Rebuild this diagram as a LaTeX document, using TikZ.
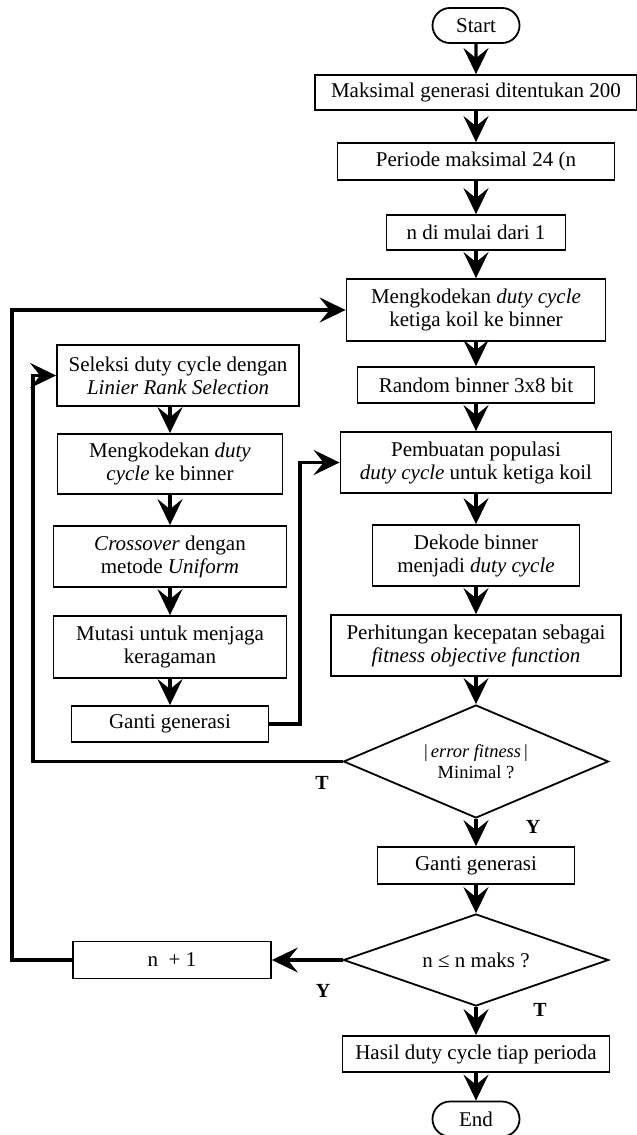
\documentclass[tikz,border=0pt]{standalone}
\usepackage{fontspec}
\setmainfont{Liberation Serif}
\usepackage{tikz}
\usetikzlibrary{shapes, arrows.meta, positioning}

\begin{document}
\begin{tikzpicture}[
        x=1pt, y=-1pt,
        box/.style={rectangle, draw, line width=1.8pt, inner sep=0pt, align=center, font=\fontsize{21}{23}\selectfont},
        term/.style={rounded rectangle, draw, line width=1.8pt, inner sep=0pt, minimum width=87pt, minimum height=35pt, font=\fontsize{21}{23}\selectfont},
        decision/.style={diamond, draw, line width=1.8pt, aspect=2.4, inner sep=0pt, align=center, font=\fontsize{21}{23}\selectfont},
        arr/.style={line width=3.2pt, -{Stealth[length=26pt, width=25pt, inset=10pt]}},
        lbl/.style={font=\fontsize{20}{20}\selectfont\bfseries}
        ]

        \useasboundingbox (0,0) rectangle (637,1135);

        % Main column
        \node[term] (start) at (476,25.5) {Start};
        \node[box, minimum width=322pt, minimum height=35pt] (maxgen) at (476,92.5) {Maksimal generasi ditentukan 200};
        \node[box, minimum width=277pt, minimum height=37pt] (periode) at (476,161.5) {Periode maksimal 24 (n};
        \node[box, minimum width=179pt, minimum height=35pt] (nstart) at (476,232.5) {n di mulai dari 1};
        \node[box, minimum width=259pt, minimum height=62pt] (encode) at (476,310) {Mengkodekan \textit{duty cycle}\\ketiga koil ke binner};
        \node[box, minimum width=237pt, minimum height=36pt] (random) at (476,385) {Random binner 3x8 bit};
        \node[box, minimum width=271pt, minimum height=61pt] (populasi) at (476,462.5) {Pembuatan populasi\\\textit{duty cycle} untuk ketiga koil};
        \node[box, minimum width=207pt, minimum height=61pt] (dekode) at (476,555.5) {Dekode binner\\menjadi \textit{duty cycle}};
        \node[box, minimum width=290pt, minimum height=61pt] (fitness) at (476,645.5) {Perhitungan kecepatan sebagai\\\textit{fitness objective function}};
        \node[decision, minimum width=265pt, minimum height=113pt, font=\fontsize{18.5}{21}\selectfont] (minimal) at (476,761.5) {|\,\textit{error fitness}\,|\\Minimal ?};
        \node[box, minimum width=197pt, minimum height=37pt] (ganti) at (476,865.5) {Ganti generasi};
        \node[decision, minimum width=265pt, minimum height=92pt] (cek) at (476,960) {n ≤ n maks ?};
        \node[box, minimum width=267pt, minimum height=36pt] (hasil) at (476,1054) {Hasil duty cycle tiap perioda};
        \node[term] (end) at (476,1119) {End};

        % Left column
        \node[box, minimum width=242pt, minimum height=61pt] (seleksi) at (178,375.5) {Seleksi duty cycle dengan\\\textit{Linier Rank Selection}};
        \node[box, minimum width=225pt, minimum height=60pt] (kode) at (170,464) {Mengkodekan \textit{duty}\\\textit{cycle} ke binner};
        \node[box, minimum width=233pt, minimum height=61pt] (crossover) at (170,556.5) {\textit{Crossover} dengan\\metode \textit{Uniform}};
        \node[box, minimum width=233pt, minimum height=62pt] (mutasi) at (170,647) {Mutasi untuk menjaga\\keragaman};
        \node[box, minimum width=197pt, minimum height=36pt] (gantiL) at (170,724) {Ganti generasi};
        \node[box, minimum width=198pt, minimum height=37pt] (nplus) at (172,960) {n\ \ + 1};

        % Connections
        \foreach \a/\b in {start/maxgen, maxgen/periode, periode/nstart, nstart/encode, encode/random,
                random/populasi, populasi/dekode, dekode/fitness, fitness/minimal, minimal/ganti,
                ganti/cek, cek/hasil, hasil/end}
            \draw[arr] (\a) -- (\b);

        \draw[arr] (seleksi.south -| kode.north) -- (kode.north);
        \foreach \a/\b in {kode/crossover, crossover/mutasi, mutasi/gantiL}
            \draw[arr] (\a) -- (\b);

        % Loops
        \coordinate (innerturn) at (33,761.5);
        \coordinate (gantiturn) at (300,724);
        \coordinate (outerturn) at (12,960);
        \draw[arr] (minimal.west) -- (innerturn) |- (seleksi.west);
        \draw[arr] (gantiL.east) -- (gantiturn) |- (populasi.west);
        \draw[arr] (cek.west) -- (nplus.east);
        \draw[arr] (nplus.west) -- (outerturn) |- (encode.west);

        % Branch labels
        \node[lbl] (tmin) at (322,783) {T};
        \node[lbl] (ymin) at (533,827) {Y};
        \node[lbl] (ycek) at (323,991) {Y};
        \node[lbl] (tcek) at (540,1010) {T};

    \end{tikzpicture}
\end{document}
